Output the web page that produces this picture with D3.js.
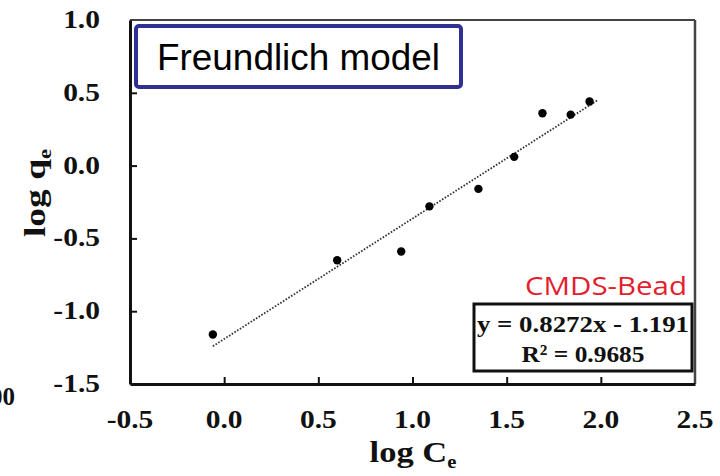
<!DOCTYPE html>
<html>
<head>
<meta charset="utf-8">
<script src="https://cdn.jsdelivr.net/npm/d3@7"></script>
<style>
  body { margin: 0; background: #fff; }
  svg { display: block; }
</style>
</head>
<body>
<div id="chart"></div>
<script>
// data
const logCe = [-0.06, 0.60, 0.94, 1.09, 1.35, 1.54, 1.69, 1.84, 1.94];
const logQe = [-1.16, -0.65, -0.59, -0.28, -0.16, 0.06, 0.36, 0.35, 0.44];
const fitSlope = 0.8272;
const fitIntercept = -1.191;
const fitRange = [-0.06, 1.98];
const xTickLabels = [-0.5, 0.0, 0.5, 1.0, 1.5, 2.0, 2.5];
const yTickLabels = [1.0, 0.5, 0.0, -0.5, -1.0, -1.5];
const xTickMarks = [0.0, 0.5, 1.0, 1.5, 2.0];
const yTickMarks = [0.5, 0.0, -0.5, -1.0];

const width = 720;
const height = 476;
const plotLeft = 130, plotRight = 695, plotTop = 20, plotBottom = 384;
const serif = "'Liberation Serif', 'Times New Roman', serif";

const x = d3.scaleLinear().domain([-0.5, 2.5]).range([plotLeft, plotRight]);
const y = d3.scaleLinear().domain([-1.5, 1.0]).range([plotBottom, plotTop]);

const svg = d3.select('#chart').append('svg')
    .attr('width', width)
    .attr('height', height);

// frame top and right
svg.append('line')
    .attr('x1', plotLeft).attr('x2', plotRight)
    .attr('y1', plotTop).attr('y2', plotTop)
    .attr('stroke', '#444').attr('stroke-width', 2);
svg.append('line')
    .attr('x1', plotRight).attr('x2', plotRight)
    .attr('y1', plotTop).attr('y2', plotBottom)
    .attr('stroke', '#444').attr('stroke-width', 2.5);

// axes with inward ticks, labels drawn separately
const xAxis = svg.append('g')
    .attr('transform', `translate(0,${plotBottom})`)
    .call(d3.axisBottom(x).tickValues(xTickMarks).tickSizeInner(-7).tickSizeOuter(0).tickFormat(''));
const yAxis = svg.append('g')
    .attr('transform', `translate(${plotLeft},0)`)
    .call(d3.axisLeft(y).tickValues(yTickMarks).tickSizeInner(-7).tickSizeOuter(0).tickFormat(''));
[xAxis, yAxis].forEach(a => {
    a.select('.domain').attr('stroke', '#111').attr('stroke-width', 3);
    a.selectAll('.tick line').attr('stroke', '#111').attr('stroke-width', 2);
});

svg.selectAll('.xlab').data(xTickLabels).join('text')
    .attr('class', 'xlab')
    .attr('transform', d => `translate(${x(d)},428) scale(1.18,1)`)
    .attr('text-anchor', 'middle')
    .attr('font-family', serif).attr('font-weight', 'bold').attr('font-size', 25)
    .attr('fill', '#111')
    .text(d => d.toFixed(1));

svg.selectAll('.ylab').data(yTickLabels).join('text')
    .attr('class', 'ylab')
    .attr('transform', d => `translate(100,${y(d) + 8}) scale(1.18,1)`)
    .attr('text-anchor', 'end')
    .attr('font-family', serif).attr('font-weight', 'bold').attr('font-size', 25)
    .attr('fill', '#111')
    .text(d => d.toFixed(1));

// cut-off label from neighbouring panel
svg.append('text')
    .attr('x', 15).attr('y', 405)
    .attr('text-anchor', 'end')
    .attr('font-family', serif).attr('font-weight', 'bold').attr('font-size', 25)
    .attr('fill', '#111')
    .text('00');

// axis titles
const xTitle = svg.append('text')
    .attr('transform', 'translate(413,462) scale(1.15,1)')
    .attr('text-anchor', 'middle')
    .attr('font-family', serif).attr('font-weight', 'bold').attr('font-size', 30)
    .attr('fill', '#111');
xTitle.append('tspan').text('log C');
xTitle.append('tspan').attr('font-size', 18).attr('dy', 6).text('e');

const yTitle = svg.append('text')
    .attr('transform', 'translate(45,193) rotate(-90) scale(1.25,1)')
    .attr('text-anchor', 'middle')
    .attr('font-family', serif).attr('font-weight', 'bold').attr('font-size', 30)
    .attr('fill', '#111');
yTitle.append('tspan').text('log q');
yTitle.append('tspan').attr('font-size', 18).attr('dy', 6).text('e');

// fit line
svg.append('line')
    .attr('x1', x(fitRange[0])).attr('y1', y(fitSlope * fitRange[0] + fitIntercept))
    .attr('x2', x(fitRange[1])).attr('y2', y(fitSlope * fitRange[1] + fitIntercept))
    .attr('stroke', '#333').attr('stroke-width', 1.8)
    .attr('stroke-dasharray', '1.6,1.6');

// points
svg.selectAll('.pt').data(logCe).join('circle')
    .attr('class', 'pt')
    .attr('cx', d => x(d))
    .attr('cy', (d, i) => y(logQe[i]))
    .attr('r', 4.2)
    .attr('fill', '#000');

// model label box
svg.append('rect')
    .attr('x', 136).attr('y', 26).attr('width', 325).attr('height', 61)
    .attr('rx', 3)
    .attr('fill', '#fff').attr('stroke', '#2e3192').attr('stroke-width', 4);
svg.append('text')
    .attr('x', 157).attr('y', 70)
    .attr('font-family', "'Liberation Sans', Arial, sans-serif").attr('font-size', 36)
    .attr('textLength', 283).attr('lengthAdjust', 'spacingAndGlyphs')
    .attr('fill', '#000')
    .text('Freundlich model');

// sample name
svg.append('text')
    .attr('x', 525).attr('y', 295)
    .attr('font-family', "'Open Sans', 'Noto Sans', sans-serif").attr('font-size', 26)
    .attr('textLength', 162).attr('lengthAdjust', 'spacingAndGlyphs')
    .attr('fill', '#e41e2d')
    .text('CMDS-Bead');

// equation box
svg.append('rect')
    .attr('x', 474).attr('y', 304).attr('width', 218).attr('height', 67)
    .attr('fill', '#fff').attr('stroke', '#111').attr('stroke-width', 3);
svg.append('text')
    .attr('x', 583).attr('y', 332)
    .attr('text-anchor', 'middle')
    .attr('font-family', serif).attr('font-weight', 'bold').attr('font-size', 24)
    .attr('textLength', 212).attr('lengthAdjust', 'spacingAndGlyphs')
    .attr('fill', '#111')
    .text(`y = ${fitSlope}x - ${Math.abs(fitIntercept)}`);
svg.append('text')
    .attr('x', 583).attr('y', 362)
    .attr('text-anchor', 'middle')
    .attr('font-family', serif).attr('font-weight', 'bold').attr('font-size', 24)
    .attr('textLength', 123).attr('lengthAdjust', 'spacingAndGlyphs')
    .attr('fill', '#111')
    .text('R² = 0.9685');
</script>
</body>
</html>
